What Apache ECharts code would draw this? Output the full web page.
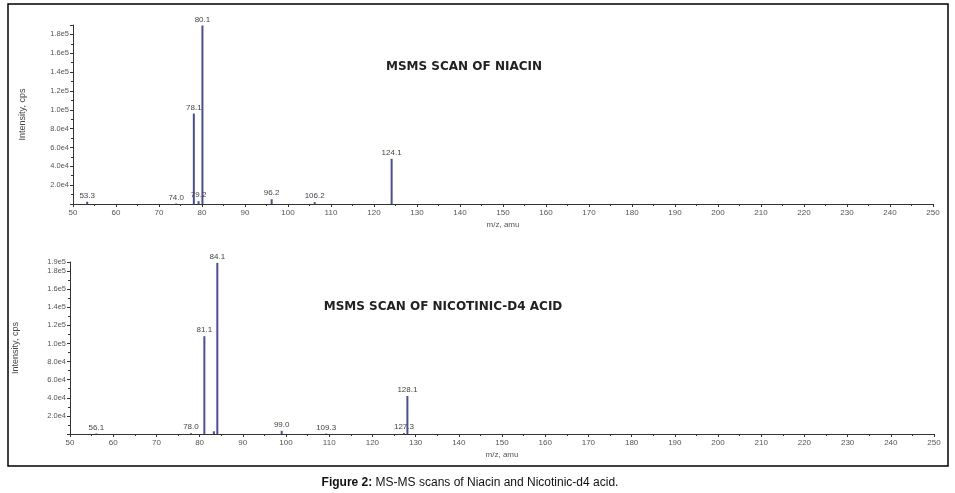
<!DOCTYPE html>
<html><head><meta charset="utf-8">
<script src="https://cdn.jsdelivr.net/npm/echarts@6/dist/echarts.min.js"></script>
<style>html,body{margin:0;padding:0;background:#fff}#c{width:955px;height:493px}</style>
</head><body><div id="c"></div>
<script>
// Niacin MS/MS scan
const topMz = [53.3, 74.0, 78.1, 79.2, 80.1, 96.2, 106.2, 124.1];
const topInt = [2400, 500, 96000, 3000, 189500, 5000, 2000, 48000];
const topLabeled = [1, 1, 1, 1, 1, 1, 1, 1];
// Nicotinic-d4 acid MS/MS scan
const botMz = [56.1, 78.0, 81.1, 83.3, 84.1, 99.0, 109.3, 127.3, 128.1];
const botInt = [500, 800, 108000, 3000, 189000, 3500, 500, 1000, 42000];
const botLabeled = [1, 1, 1, 0, 1, 1, 1, 1, 1];

const titles = ['MSMS SCAN OF NIACIN', 'MSMS SCAN OF NICOTINIC-D4 ACID'];
const caption = ['Figure 2:', ' MS-MS scans of Niacin and Nicotinic-d4 acid.'];
const xName = 'm/z, amu';
const yName = 'Intensity, cps';

const barColor = '#4a4e9a';
const font = 'Liberation Sans, Arial, sans-serif';
const titleFont = 'DejaVu Sans, sans-serif';

function mkData(mz, it, lab) {
  return mz.map((m, i) => ({
    value: [m, it[i]],
    label: { show: !!lab[i] }
  }));
}
function yFmt(v) { return v === 0 ? '' : v.toExponential(1).replace('+', ''); }

function xAxis(gi) {
  return {
    type: 'value', gridIndex: gi, min: 50, max: 250, interval: 10,
    name: xName, nameLocation: 'middle', nameGap: 17,
    nameTextStyle: { fontSize: 8, color: '#555', fontFamily: font },
    axisLine: { lineStyle: { color: '#333', width: 1 } },
    axisTick: { show: true, length: 3, lineStyle: { color: '#333' } },
    minorTick: { show: true, splitNumber: 2, length: 2, lineStyle: { color: '#333' } },
    splitLine: { show: false },
    axisLabel: { fontSize: 8, color: '#555', margin: 5, fontFamily: font }
  };
}
function yAxis(gi, showMax, gap) {
  return {
    type: 'value', gridIndex: gi, min: 0, max: 190000, interval: 20000,
    name: yName, nameLocation: 'middle', nameGap: gap, nameRotate: 90,
    nameTextStyle: { fontSize: 9, color: '#444', fontFamily: font },
    axisLine: { show: true, lineStyle: { color: '#333', width: 1 } },
    axisTick: { show: true, length: 3, lineStyle: { color: '#333' } },
    minorTick: { show: true, splitNumber: 2, length: 2, lineStyle: { color: '#333' } },
    splitLine: { show: false },
    axisLabel: { fontSize: 7.5, color: '#555', margin: 4, fontFamily: font,
      formatter: yFmt, showMaxLabel: showMax, showMinLabel: false }
  };
}
function series(gi, mz, it, lab) {
  return {
    type: 'bar', xAxisIndex: gi, yAxisIndex: gi, barWidth: 2,
    itemStyle: { color: barColor },
    label: { position: 'top', distance: 2, fontSize: 8, color: '#444', fontFamily: font,
      formatter: p => p.value[0].toFixed(1) },
    data: mkData(mz, it, lab)
  };
}

const chart = echarts.init(document.getElementById('c'), null, { renderer: 'canvas' });
chart.setOption({
  animation: false,
  backgroundColor: '#fff',
  grid: [
    { left: 73, right: 22, top: 25, bottom: 289 },
    { left: 70, right: 21, top: 262, bottom: 59 }
  ],
  xAxis: [xAxis(0), xAxis(1)],
  yAxis: [yAxis(0, false, 46), yAxis(1, true, 50)],
  series: [series(0, topMz, topInt, topLabeled), series(1, botMz, botInt, botLabeled)],
  title: [
    { text: titles[0], left: 459, top: 56, textAlign: 'center',
      textStyle: { fontSize: 12, fontWeight: 'bold', color: '#222', fontFamily: titleFont } },
    { text: titles[1], left: 438, top: 296, textAlign: 'center',
      textStyle: { fontSize: 12, fontWeight: 'bold', color: '#222', fontFamily: titleFont } },
    { text: '{b|' + caption[0] + '}{n|' + caption[1] + '}', left: 465, top: 472, textAlign: 'center',
      textStyle: { fontWeight: 'normal', rich: {
        b: { fontSize: 12, fontWeight: 'bold', color: '#111', fontFamily: font },
        n: { fontSize: 12, fontWeight: 'normal', color: '#111', fontFamily: font } } } }
  ],
  graphic: [
    { type: 'rect', shape: { x: 8, y: 4, width: 940, height: 462 },
      style: { fill: 'none', stroke: '#000', lineWidth: 1.5 }, silent: true }
  ]
});
</script></body></html>
